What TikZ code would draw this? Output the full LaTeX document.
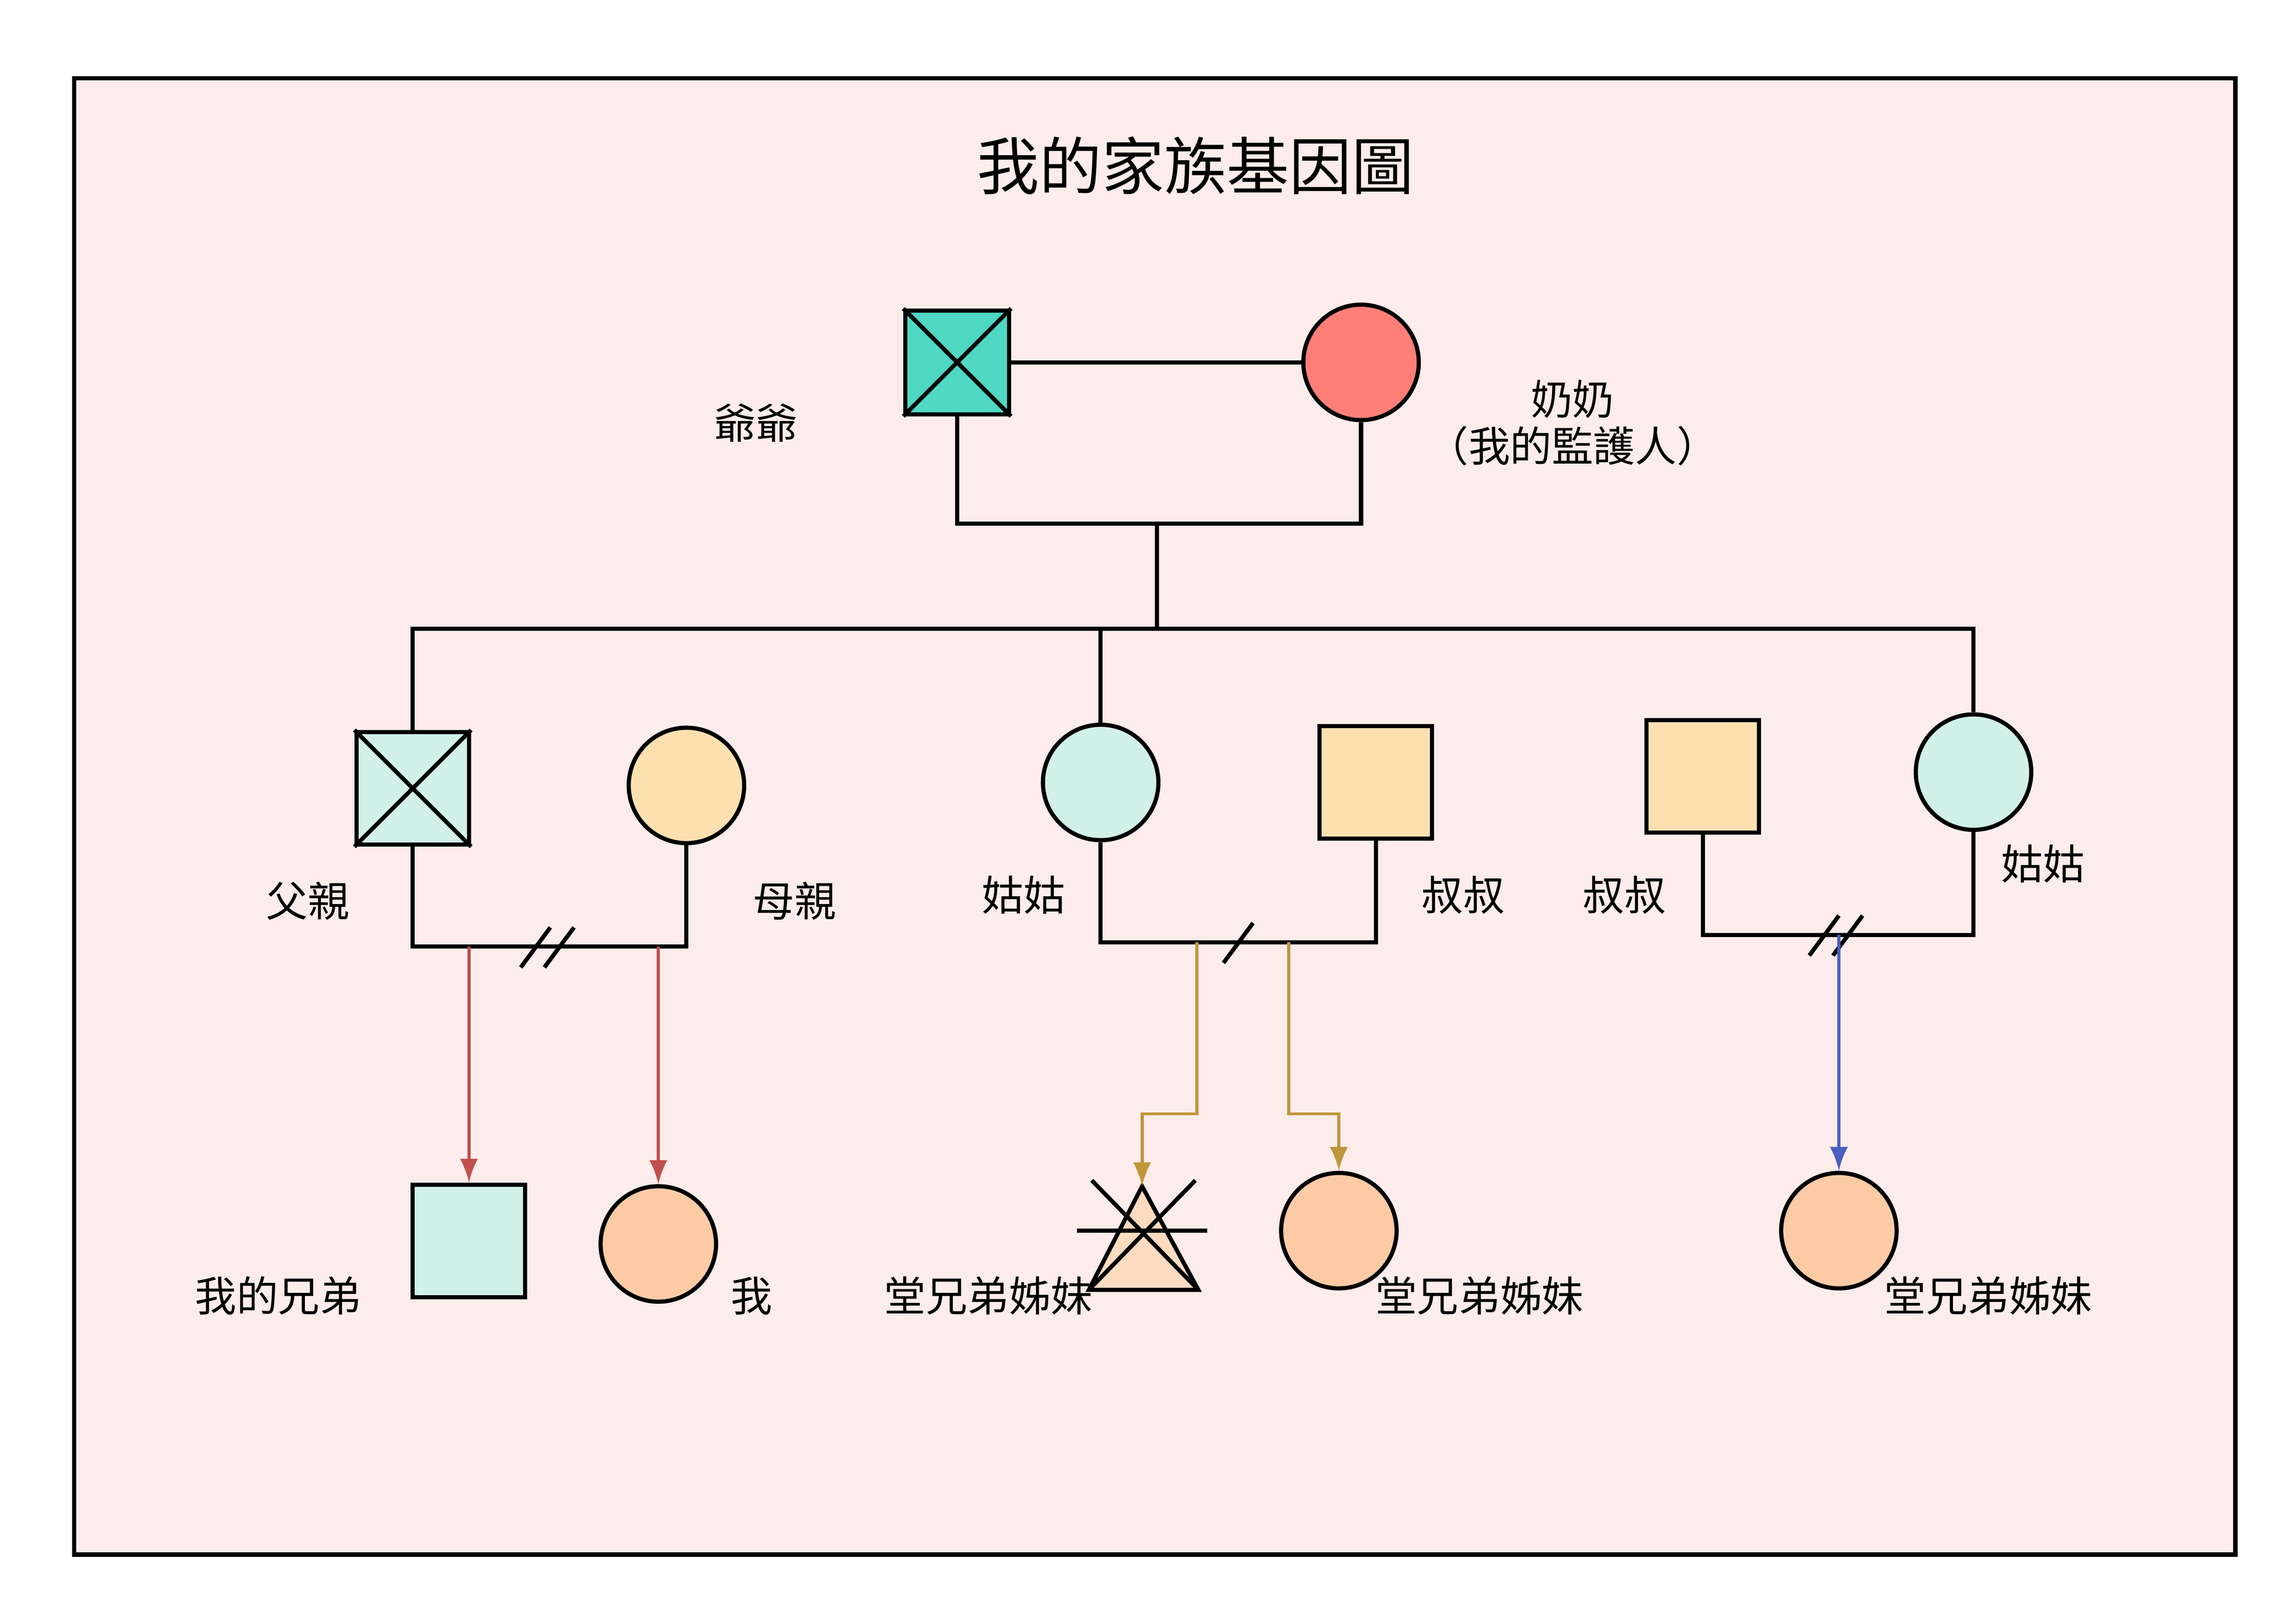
\documentclass[tikz,border=0pt]{standalone}
\usepackage{fontspec}
\newfontfamily\cjk{Noto Sans CJK TC}
\usetikzlibrary{arrows,positioning}
\definecolor{bgpink}{HTML}{FDECEC}
\definecolor{teal1}{HTML}{4FD8C4}
\definecolor{mint}{HTML}{D0F0E8}
\definecolor{salmon}{HTML}{FF7F78}
\definecolor{cream}{HTML}{FDE0B0}
\definecolor{peach}{HTML}{FCCBA6}
\definecolor{redline}{HTML}{C0504D}
\definecolor{goldline}{HTML}{C0963A}
\definecolor{blueline}{HTML}{4A5FC0}
\tikzstyle{male} = [rectangle, draw, thick, minimum size=0.76cm, inner sep=0pt]
\tikzstyle{female} = [circle, draw, thick, minimum size=0.78cm, inner sep=0pt]
\tikzstyle{lbl} = [font=\cjk\fontsize{8}{9}\selectfont]
\tikzstyle{link} = [thick]
\tikzstyle{kid} = [semithick, -latex]
\begin{document}
\begin{tikzpicture}[x=0.01cm, y=-0.01cm]
\useasboundingbox (0,0) rectangle (1552,1097);
\draw[thick, fill=bgpink] (50,53) rectangle (1511,1051);
\node[font=\cjk\fontsize{12}{14}\selectfont] (title) at (808,112) {我的家族基因圖};

%Grandparents
\node[male, minimum size=0.70cm, fill=teal1] (gpa) at (647,245) {};
\draw[link] (gpa.north west)--(gpa.south east) (gpa.north east)--(gpa.south west);
\node[female, fill=salmon] (gma) at (920,245) {};
\draw[link] (gpa) -- (gma);
\node[lbl] (gpal) at (511,286) {爺爺};
\node[lbl, align=center] (gmal) at (1063,286) {奶奶\\（我的監護人）};
\coordinate (gc) at (782,354);
\draw[link] (gpa.south) |- (gc) -| (gma.south);
\coordinate (bar) at (782,425);
\draw[link] (gc) -- (bar);

%Parents
\node[male, fill=mint] (dad) at (279,533) {};
\draw[link] (dad.north west)--(dad.south east) (dad.north east)--(dad.south west);
\node[female, fill=cream] (mom) at (464,531) {};
\node[female, fill=mint] (aunt1) at (744,529) {};
\node[male, fill=cream] (uncle1) at (930,529) {};
\node[male, fill=cream] (uncle2) at (1151,525) {};
\node[female, fill=mint] (aunt2) at (1334,522) {};
\draw[link] (dad.north) |- (bar) -| (aunt2.north);
\draw[link] (aunt1.north) -- (aunt1.north |- bar);
\node[lbl] (dadl) at (208,609) {父親};
\node[lbl] (moml) at (537,609) {母親};
\node[lbl] (a1l) at (692,605) {姑姑};
\node[lbl] (u1l) at (989,605) {叔叔};
\node[lbl] (u2l) at (1098,605) {叔叔};
\node[lbl] (a2l) at (1381,584) {姑姑};

% couple lines
\coordinate (c1) at (371,640);
\coordinate (c2) at (837,637);
\coordinate (c3) at (1243,632);
\draw[link] (dad.south) |- (c1) -| (mom.south);
\draw[link] (aunt1.south) |- (c2) -| (uncle1.south);
\draw[link] (uncle2.south) |- (c3) -| (aunt2.south);
\draw[link] (352,654)--(372,627) (368,654)--(388,627);
\draw[link] (827,651)--(847,624);
\draw[link] (1223,646)--(1243,619) (1239,646)--(1259,619);

%Children
\node[male, fill=mint] (bro) at (317,839) {};
\node[female, fill=peach] (me) at (445,841) {};
\node[female, fill=peach] (cous2) at (905,832) {};
\node[female, fill=peach] (cous3) at (1243,832) {};
\coordinate (t1) at (772,802);
\coordinate (t2) at (810,872);
\coordinate (t3) at (736,872);
\draw[thick, fill=peach!70] (t1) -- (t2) -- (t3) -- cycle;
\draw[thick] (738,798)--(810,872) (808,798)--(736,872) (728,832)--(816,832);
\node[lbl] (brol) at (188,876) {我的兄弟};
\node[lbl] (mel) at (508,876) {我};
\node[lbl] (c1l) at (668,876) {堂兄弟姊妹};
\node[lbl] (c2l) at (1000,876) {堂兄弟姊妹};
\node[lbl] (c3l) at (1344,876) {堂兄弟姊妹};

\draw[kid, redline] (317,640) -- (bro.north);
\draw[kid, redline] (445,640) -- (me.north);
\draw[kid, goldline] (809,637) |- (772,753) -- (t1);
\draw[kid, goldline] (871,637) |- (905,753) -- (cous2.north);
\draw[kid, blueline] (c3) -- (cous3.north);
\end{tikzpicture}
\end{document}
